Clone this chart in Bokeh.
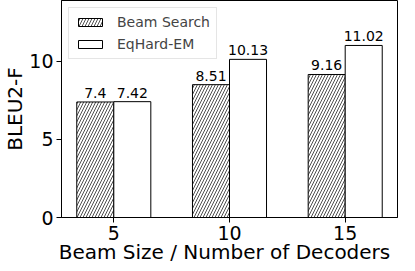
from bokeh.plotting import figure
from bokeh.models import ColumnDataSource, Range1d, FixedTicker, Legend, LegendItem, Title, Div
from bokeh.layouts import column
from bokeh.core.properties import value
from bokeh.embed import file_html
from bokeh.resources import INLINE

categories = ["5", "10", "15"]
beam_search = [7.4, 8.51, 9.16]
eqhard_em = [7.42, 10.13, 11.02]
y_ticks = [0, 5, 10]
x_title = "Beam Size / Number of Decoders"
y_title = "BLEU2-F"

FONT = "DejaVu Sans"
W = 0.32
xs = list(range(len(categories)))
Y_MAX = 13.9

p = figure(width=399, height=242, output_backend="svg", toolbar_location=None,
           x_range=Range1d(-0.452, len(categories) - 1 + 0.452), y_range=Range1d(0, Y_MAX),
           min_border_left=0, min_border_right=2, min_border_top=0, min_border_bottom=0,
           margin=0)

src_b = ColumnDataSource(dict(x=[x - W / 2 for x in xs], top=beam_search,
                              lab=[str(v) for v in beam_search]))
src_e = ColumnDataSource(dict(x=[x + W / 2 for x in xs], top=eqhard_em,
                              lab=[str(v) for v in eqhard_em]))

rb = p.vbar(x="x", top="top", width=W, source=src_b, fill_color="white", line_color="black",
            line_width=1, hatch_pattern="/", hatch_color="#222222", hatch_scale=6, hatch_weight=0.8)
re = p.vbar(x="x", top="top", width=W, source=src_e, fill_color="white", line_color="black",
            line_width=1)

for s in (src_b, src_e):
    p.text(x="x", y="top", text="lab", source=s, text_align="center", text_baseline="bottom",
           y_offset=-4, text_font=value(FONT), text_font_size="14px", text_color="black")

p.xgrid.visible = False
p.ygrid.visible = False
p.outline_line_color = "black"
p.outline_line_width = 1

for ax in (p.xaxis[0], p.yaxis[0]):
    ax.major_label_text_font = FONT
    ax.major_label_text_font_size = "19px"
    ax.major_label_text_color = "black"
    ax.minor_tick_line_color = None
    ax.major_tick_out = 5
    ax.major_tick_in = 0
    ax.axis_line_color = "black"
    ax.major_label_standoff = 3

p.xaxis.ticker = FixedTicker(ticks=xs)
p.xaxis.major_label_overrides = {i: c for i, c in enumerate(categories)}
p.yaxis.ticker = FixedTicker(ticks=y_ticks)

p.add_layout(Title(text=y_title, align="center", text_font=FONT, text_font_size="20px",
                   text_font_style="normal", text_color="black", standoff=0, offset=0), "left")

legend = Legend(items=[LegendItem(label="Beam Search", renderers=[rb]),
                       LegendItem(label="EqHard-EM", renderers=[re])],
                location="top_left", margin=7, padding=6, spacing=6,
                glyph_width=30, glyph_height=10, label_standoff=12,
                label_text_font=FONT, label_text_font_size="14px",
                border_line_color="#cccccc", border_line_width=1,
                background_fill_alpha=0.8)
p.add_layout(legend)

xlab = Div(text=('<div style="width:345px;margin-left:52px;text-align:center;'
                 'font-family:\'DejaVu Sans\';font-size:20px;line-height:21px;'
                 'color:black;white-space:nowrap">' + x_title + '</div>'),
           width=399, height=13, margin=0)

layout = column(p, xlab, spacing=0, margin=0)

open("out.html", "w").write(file_html(layout, INLINE))
